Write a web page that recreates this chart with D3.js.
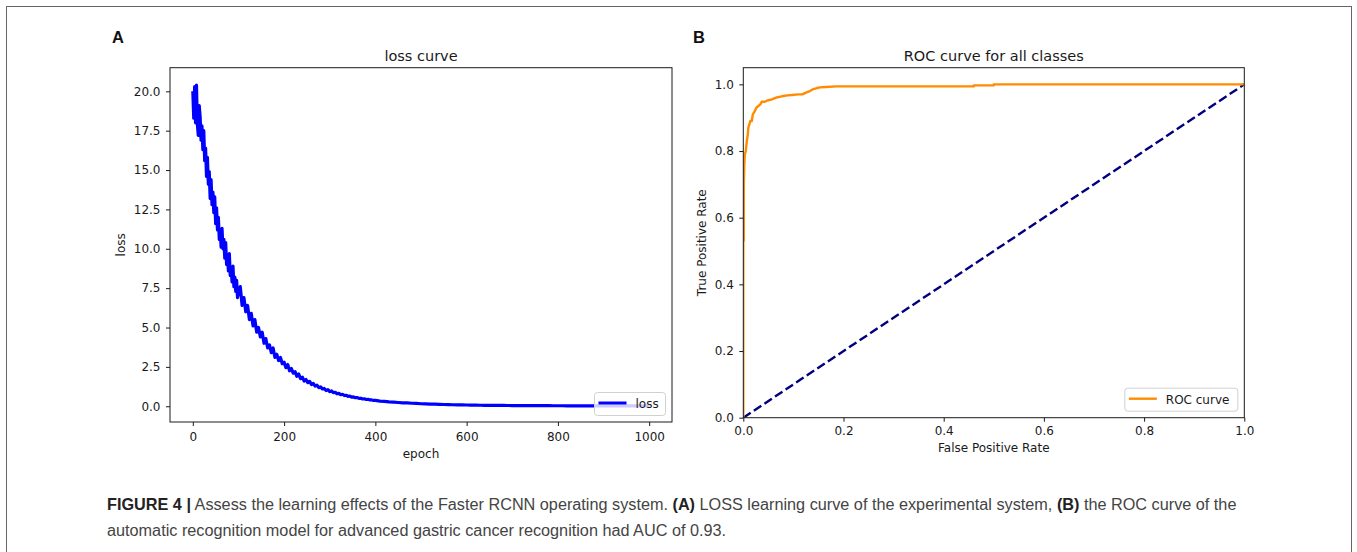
<!DOCTYPE html>
<html><head><meta charset="utf-8">
<script src="https://cdn.jsdelivr.net/npm/d3@7"></script>
<style>body{margin:0;background:#fff}svg{display:block}</style>
</head><body>
<svg id="c" width="1357" height="552"></svg>
<script>
// ---------- DATA ----------
const lossEpochs = [0,2,4,6,8,10,12,14,16,18,20,22,24,26,28,30,32,34,36,38,40,42,44,46,48,50,
52,54,56,58,60,62,64,66,68,70,72,74,76,78,80,82,84,86,88,90,92,94,96,98,100,
104,108,112,116,120,124,128,132,136,140,144,148,152,156,160,164,168,172,176,180,184,188,192,196,200,
204,208,212,216,220,224,228,232,236,240,244,248,252,256,260,264,268,272,276,280,284,288,292,296,300,
304,308,312,316,320,324,328,332,336,340,344,348,352,356,360,364,368,372,376,380,384,388,392,396,400,
410,420,430,440,450,460,470,480,490,500,510,520,530,540,550,560,570,580,590,600,
610,620,630,640,650,660,670,680,690,700,710,720,730,740,750,760,770,780,790,800,
810,820,830,840,850,860,870,880,890,900,910,920,930,940,950,960,970,980,990,1000];
const lossValues = [20.0,18.3,20.3,18.0,20.4,17.9,17.2,19.1,18.4,16.9,
17.8,16.3,17.5,15.6,16.4,14.6,15.8,14.1,14.9,13.2,
14.4,12.8,13.6,12.3,13.3,11.6,12.6,11.2,12.0,10.6,
11.2,10.1,11.3,10.0,10.6,9.4,10.4,9.0,9.6,8.6,
9.7,8.3,8.8,7.9,8.9,7.6,8.2,7.3,8.0,6.9,7.3,
7.6,6.4,6.9,6.0,6.4,5.5,5.9,5.1,5.5,4.7,5.0,4.4,4.7,4.0,4.3,3.7,3.9,3.4,3.7,3.1,3.3,2.9,3.1,2.7,2.8,
2.45,2.65,2.25,2.4,2.1,2.2,1.9,2.05,1.75,1.85,1.6,1.7,1.5,1.58,1.38,1.45,1.28,1.34,1.18,1.23,1.1,1.13,1.0,1.05,0.93,
0.97,0.86,0.89,0.79,0.82,0.73,0.76,0.68,0.70,0.63,0.65,0.58,0.60,0.54,0.55,0.50,0.51,0.46,0.47,0.43,0.44,0.40,0.40,0.37,0.37,
0.33,0.31,0.28,0.26,0.24,0.22,0.21,0.19,0.18,0.16,0.15,0.14,0.13,0.12,0.11,0.10,0.095,0.09,0.085,0.08,
0.075,0.07,0.065,0.06,0.058,0.055,0.052,0.05,0.048,0.046,0.044,0.042,0.04,0.038,0.037,0.036,0.035,0.034,0.033,0.032,
0.031,0.03,0.03,0.029,0.028,0.028,0.027,0.026,0.026,0.025,0.025,0.024,0.024,0.023,0.023,0.022,0.022,0.021,0.021,0.02];
const lossXTicks = [0,200,400,600,800,1000];
const lossYTicks = [0,2.5,5,7.5,10,12.5,15,17.5,20];

const rocFPR = [0,0,0.001,0.001,0.002,0.003,0.005,0.007,0.009,0.010,0.012,0.014,0.017,0.019,0.023,0.026,0.030,0.034,0.037,0.043,
0.047,0.052,0.057,0.062,0.067,0.074,0.080,0.088,0.097,0.110,0.118,0.125,0.133,0.140,0.147,0.153,0.165,0.186,0.300,0.460,
0.460,0.500,0.500,1.0];
const rocTPR = [0,0.53,0.53,0.70,0.76,0.79,0.80,0.83,0.85,0.87,0.88,0.89,0.89,0.91,0.92,0.93,0.935,0.94,0.948,0.948,
0.951,0.953,0.955,0.958,0.961,0.963,0.965,0.967,0.968,0.970,0.970,0.975,0.980,0.986,0.989,0.991,0.992,0.994,0.994,0.994,
0.997,0.997,1.0,1.0];
const diagFPR = [0,1];
const diagTPR = [0,1];
const rocXTicks = [0,0.2,0.4,0.6,0.8,1.0];
const rocYTicks = [0,0.2,0.4,0.6,0.8,1.0];

const captionLine1 = [
  {t:"FIGURE 4 |", b:true},
  {t:" Assess the learning effects of the Faster RCNN operating system. ", b:false},
  {t:"(A)", b:true},
  {t:" LOSS learning curve of the experimental system, ", b:false},
  {t:"(B)", b:true},
  {t:" the ROC curve of the", b:false}
];
const captionLine2 = "automatic recognition model for advanced gastric cancer recognition had AUC of 0.93.";

// ---------- DRAW ----------
const svg = d3.select('#c');
const FONT = "'DejaVu Sans', sans-serif";
const INK = '#1a1a1a';

svg.append('rect').attr('x',6.5).attr('y',6.5).attr('width',1345).attr('height',600)
  .attr('fill','none').attr('stroke','#666').attr('stroke-width',1);

function panel(opt){
  const g = svg.append('g');
  const x = d3.scaleLinear().domain(opt.xd).range([opt.L, opt.R]);
  const y = d3.scaleLinear().domain(opt.yd).range([opt.B, opt.T]);
  const cid = 'clip'+opt.id;
  svg.append('clipPath').attr('id',cid).append('rect')
    .attr('x',opt.L).attr('y',opt.T).attr('width',opt.R-opt.L).attr('height',opt.B-opt.T);

  const xa = g.append('g').attr('transform',`translate(0,${opt.B})`)
    .call(d3.axisBottom(x).tickValues(opt.xt).tickFormat(opt.xf).tickSize(4).tickPadding(opt.xpad));
  const ya = g.append('g').attr('transform',`translate(${opt.L},0)`)
    .call(d3.axisLeft(y).tickValues(opt.yt).tickFormat(opt.yf).tickSize(4).tickPadding(5.5));
  [xa,ya].forEach(a=>{
    a.select('.domain').remove();
    a.selectAll('line').attr('stroke',INK).attr('stroke-width',1);
    a.selectAll('text').attr('fill',INK).style('font-family',FONT).style('font-size','12px');
  });

  const dg = g.append('g').attr('clip-path',`url(#${cid})`);
  opt.series.forEach(s=>{
    const line = d3.line().x((d,i)=>x(s.xs[i])).y((d,i)=>y(s.ys[i]));
    dg.append('path').attr('d', line(s.xs)).attr('fill','none')
      .attr('stroke',s.color).attr('stroke-width',s.w)
      .attr('stroke-dasharray',s.dash||null).attr('stroke-linejoin','round');
  });

  g.append('rect').attr('x',opt.L).attr('y',opt.T).attr('width',opt.R-opt.L).attr('height',opt.B-opt.T)
    .attr('fill','none').attr('stroke',INK).attr('stroke-width',1);

  g.append('text').attr('x',(opt.L+opt.R)/2).attr('y',61).attr('text-anchor','middle')
    .style('font-family',FONT).style('font-size','14.5px').attr('fill',INK).text(opt.title);
  g.append('text').attr('x',(opt.L+opt.R)/2).attr('y',opt.xly).attr('text-anchor','middle')
    .style('font-family',FONT).style('font-size','12px').attr('fill',INK).text(opt.xlabel);
  g.append('text').attr('transform',`translate(${opt.ylx},${(opt.T+opt.B)/2}) rotate(-90)`)
    .attr('text-anchor','middle')
    .style('font-family',FONT).style('font-size','12px').attr('fill',INK).text(opt.ylabel);

  const lg = opt.legend;
  const lx = opt.R - 6.5 - lg.w, ly = opt.B - 6.5 - 23;
  g.append('rect').attr('x',lx).attr('y',ly).attr('width',lg.w).attr('height',23).attr('rx',3)
    .attr('fill','#fff').attr('fill-opacity',0.8).attr('stroke','#d0d0d0').attr('stroke-width',1);
  g.append('line').attr('x1',lx+4).attr('x2',lx+32).attr('y1',ly+10.5).attr('y2',ly+10.5)
    .attr('stroke',lg.color).attr('stroke-width',lg.lw);
  g.append('text').attr('x',lx+41).attr('y',ly+15.5)
    .style('font-family',FONT).style('font-size','12px').attr('fill',INK).text(lg.label);

  svg.append('text').attr('x',opt.letterX).attr('y',42.5)
    .style('font-family',"'Liberation Sans', Arial, sans-serif").style('font-weight','bold')
    .style('font-size','16.5px').attr('fill','#111').text(opt.letter);
}

panel({
  id:'A', L:170, R:672, T:67.7, B:422, xd:[-50,1050], yd:[-1.0,21.5],
  xt:lossXTicks, yt:lossYTicks, xf:d3.format('d'), yf:d3.format('.1f'), xpad:6.5,
  title:'loss curve', xlabel:'epoch', ylabel:'loss', xly:458, ylx:125,
  series:[{xs:lossEpochs, ys:lossValues, color:'#0000ff', w:3.2}],
  legend:{w:71, color:'#0000ff', lw:3, label:'loss'},
  letter:'A', letterX:112
});

panel({
  id:'B', L:743.3, R:1244.3, T:67.7, B:417.7, xd:[0,1], yd:[0,1.05],
  xt:rocXTicks, yt:rocYTicks, xf:d3.format('.1f'), yf:d3.format('.1f'), xpad:5,
  title:'ROC curve for all classes', xlabel:'False Positive Rate', ylabel:'True Positive Rate', xly:452, ylx:706,
  series:[
    {xs:diagFPR, ys:diagTPR, color:'#000080', w:2.4, dash:'8.9,3.8'},
    {xs:rocFPR, ys:rocTPR, color:'#ff8c00', w:2.4}
  ],
  legend:{w:113, color:'#ff8c00', lw:2.4, label:'ROC curve'},
  letter:'B', letterX:693
});

const CAPF = "'Liberation Sans', Arial, sans-serif";
const c1 = svg.append('text').attr('x',107).attr('y',510)
  .style('font-family',CAPF).style('font-size','15px').attr('fill','#444');
captionLine1.forEach(p=>{
  c1.append('tspan').style('font-weight',p.b?'bold':'normal').attr('fill',p.b?'#222':'#444').text(p.t);
});
const c2 = svg.append('text').attr('x',107).attr('y',536)
  .style('font-family',CAPF).style('font-size','15px').attr('fill','#444').text(captionLine2);
const len = c1.node().getComputedTextLength();
const fs = 15*1130/len;
c1.style('font-size',fs+'px'); c2.style('font-size',fs+'px');
</script>
</body></html>
